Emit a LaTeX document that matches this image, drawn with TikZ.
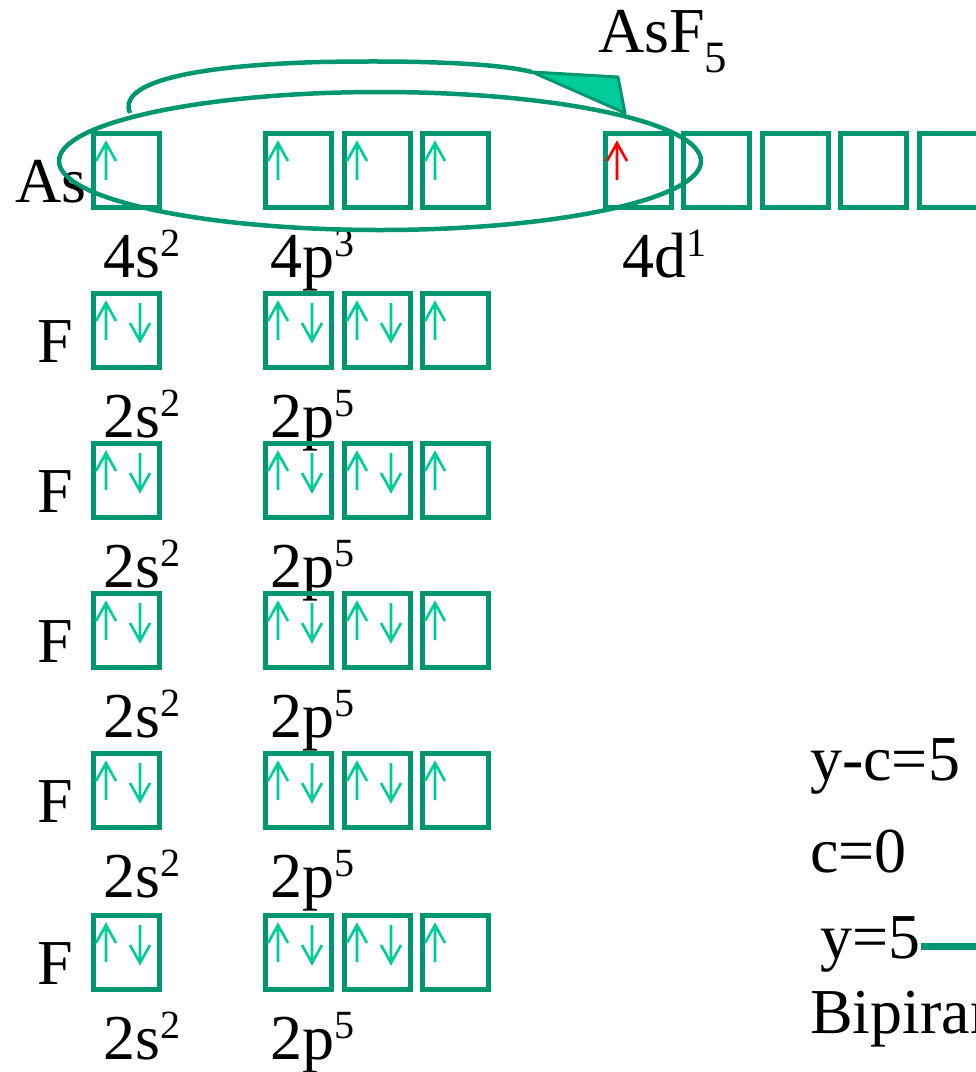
\documentclass[tikz,border=0pt]{standalone}
\usepackage{fontspec}
\setmainfont{Liberation Serif}
\usetikzlibrary{positioning,calc}

\definecolor{orbgreen}{RGB}{0,150,112}
\definecolor{spingreen}{RGB}{0,204,153}

\newcommand{\orbsup}[1]{\raisebox{21pt}{\fontsize{40}{40}\selectfont #1}}

\tikzset{
  upspin/.pic={\draw[spin] (0,37) -- (0,0) (-10,18) -- (0,0) -- (10,18);},
  downspin/.pic={\draw[spin] (0,0) -- (0,38) (-10,20) -- (0,38) -- (10,20);},
  redspin/.pic={\draw[spin, draw=red] (0,37) -- (0,0) (-10,18) -- (0,0) -- (10,18);}
}

\begin{document}
\begin{tikzpicture}[x=1pt, y=-1pt,
  orb/.style={draw=orbgreen, line width=5pt, minimum width=66pt, minimum height=74pt, inner sep=0pt, anchor=north west},
  spin/.style={draw=spingreen, line width=2.6pt, line join=miter},
  lbl/.style={font=\fontsize{64}{70}\selectfont, inner sep=0pt, anchor=base west}]
  \useasboundingbox (0,0) rectangle (976,1072);
  \clip (0,0) rectangle (976,1072);

  % As: valence shell, one 4s electron promoted to 4d
  \node[lbl] (as) at (15,202) {As};
  \node[orb] (as-s) at (91,131) {};
  \node[orb] (as-p1) at (263,131) {};
  \node[orb] (as-p2) at (342,131) {};
  \node[orb] (as-p3) at (420,131) {};
  \foreach \x [count=\k] in {603,681,760,838,917}
    \node[orb] (as-d\k) at (\x,131) {};
  \pic at ($(as-s.north west)+(15,12)$) {upspin};
  \foreach \k in {1,2,3}
    \pic at ($(as-p\k.north west)+(15,12)$) {upspin};
  \pic at ($(as-d1.north west)+(14,12)$) {redspin};
  \node[lbl] (as-sl) at (103,277) {4s\orbsup{2}};
  \node[lbl] (as-pl) at (270,277) {4p\orbsup{3}};
  \node[lbl] (as-dl) at (622,277) {4d\orbsup{1}};

  % hybrid orbitals and the arrow to the molecule
  \draw[orbgreen, line width=4.5pt] (380,161) ellipse [x radius=321, y radius=69];
  \coordinate (arcstart) at (130,113);
  \coordinate (arcend) at (532,72);
  \draw[orbgreen, line width=4.5pt] (arcstart) .. controls (118,85) and (180,66) .. (320,62)
    .. controls (430,60) and (500,64) .. (arcend);
  \filldraw[fill=spingreen, draw=orbgreen, line width=3pt, line join=round]
    (arcend) -- (618,77) -- (625,113) -- cycle;
  \node[lbl] (mol) at (598,52) {AsF\textsubscript{5}};

  % five F atoms
  \foreach \i/\t in {1/291,2/441,3/591,4/751,5/913} {
    \node[lbl] (f\i) at (37,\t+71) {F};
    \node[orb] (f\i-s) at (91,\t) {};
    \node[orb] (f\i-p1) at (263,\t) {};
    \node[orb] (f\i-p2) at (342,\t) {};
    \node[orb] (f\i-p3) at (420,\t) {};
    \pic at ($(f\i-s.north west)+(15,12)$) {upspin};
    \pic at ($(f\i-s.north west)+(49,12)$) {downspin};
    \pic at ($(f\i-p1.north west)+(15,12)$) {upspin};
    \pic at ($(f\i-p1.north west)+(49,12)$) {downspin};
    \pic at ($(f\i-p2.north west)+(15,12)$) {upspin};
    \pic at ($(f\i-p2.north west)+(49,12)$) {downspin};
    \pic at ($(f\i-p3.north west)+(15,12)$) {upspin};
    \node[lbl] (f\i-sl) at (103,\t+146) {2s\orbsup{2}};
    \node[lbl] (f\i-pl) at (270,\t+146) {2p\orbsup{5}};
  }

  % counting
  \node[lbl] (yc) at (810,780) {y-c=5};
  \node[lbl] (c0) at (810,872) {c=0};
  \node[lbl] (y5) at (820,958) {y=5};
  \coordinate (lineA) at (921,946);
  \coordinate (lineB) at (1000,946);
  \draw[orbgreen, line width=7pt] (lineA) -- (lineB);
  \node[lbl] (shape) at (810,1033) {Bipiramidal};
\end{tikzpicture}
\end{document}
